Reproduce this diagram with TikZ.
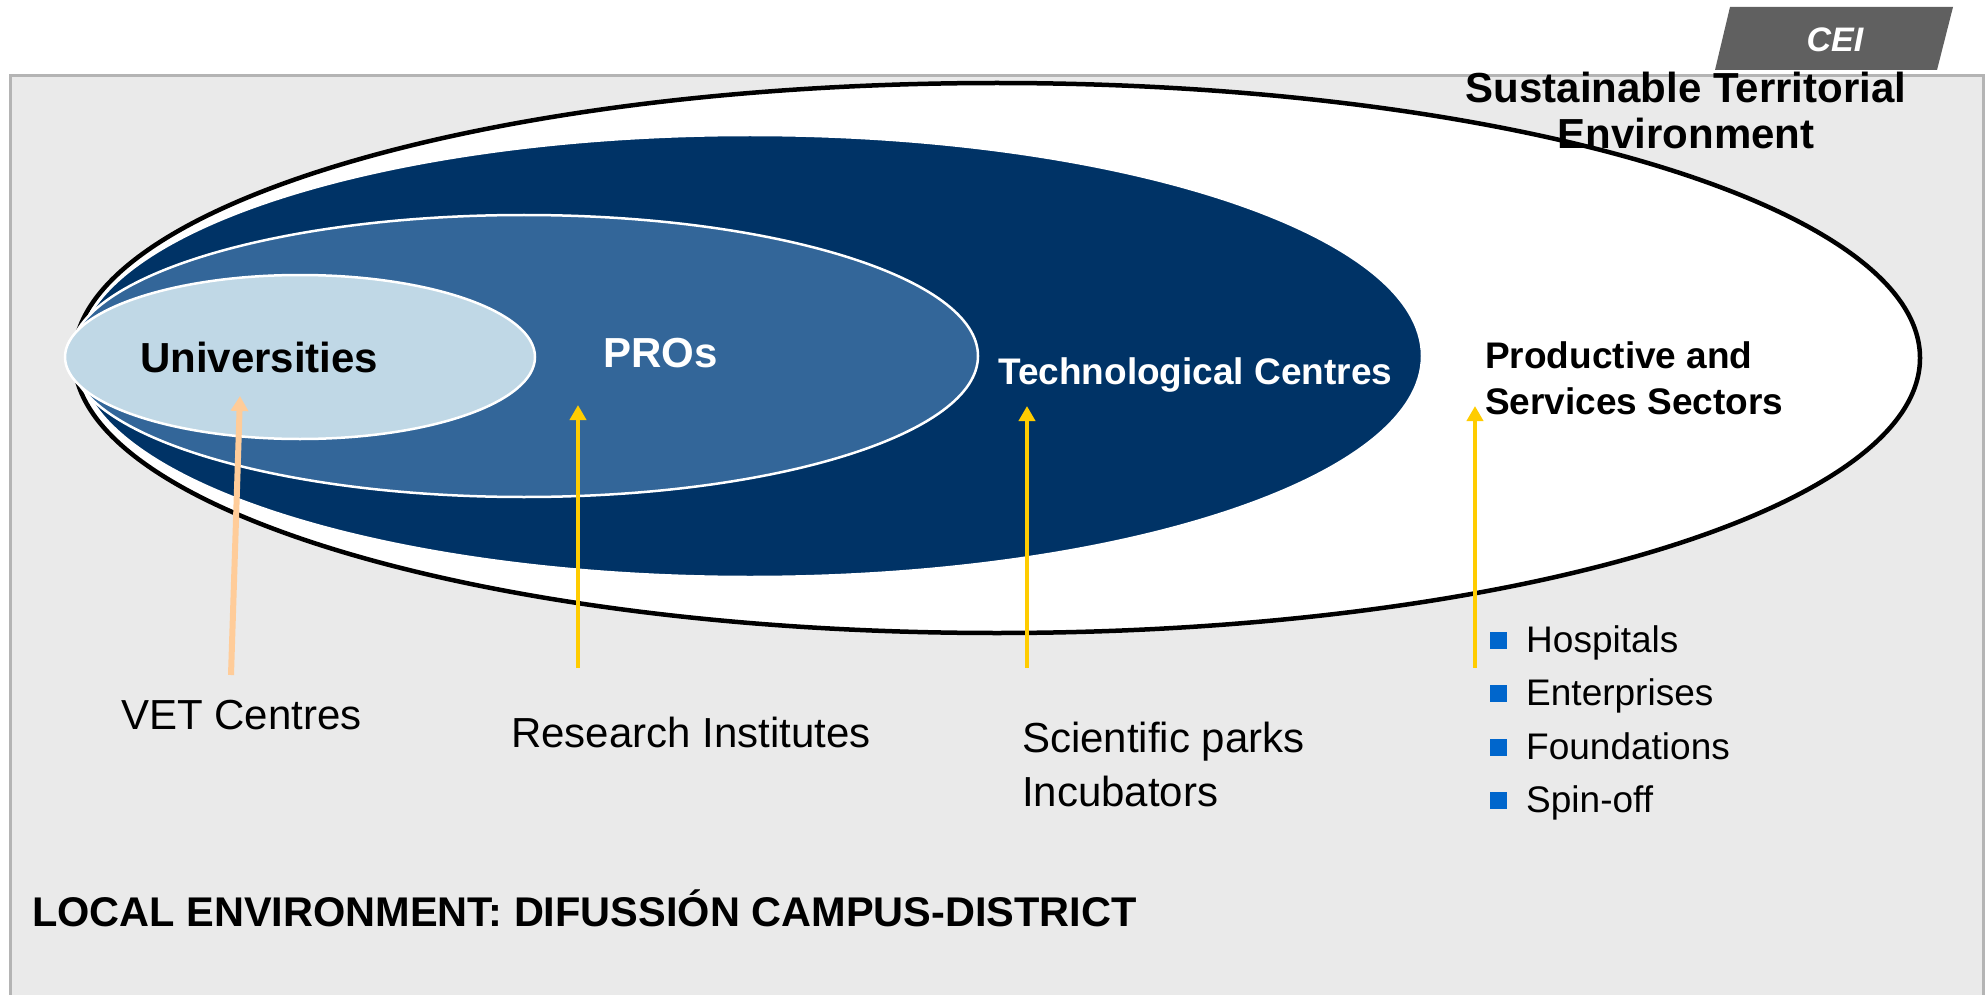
\documentclass[tikz,border=0pt]{standalone}
\usepackage{fontspec}
\setmainfont{Liberation Sans}
\usetikzlibrary{arrows.meta}
\definecolor{bggray}{HTML}{EAEAEA}
\definecolor{bordergray}{HTML}{B4B4B4}
\definecolor{ceigray}{HTML}{606060}
\definecolor{navy}{HTML}{003366}
\definecolor{midblue}{HTML}{336699}
\definecolor{lightblue}{HTML}{C0D8E6}
\definecolor{peach}{HTML}{FFCC99}
\definecolor{gold}{HTML}{FFCC00}
\definecolor{bulletblue}{HTML}{0066CC}
\tikzset{
  txt/.style={inner sep=0pt, anchor=base west},
  big/.style={font=\fontsize{42}{50}\selectfont},
  bigb/.style={font=\fontsize{42}{50}\selectfont\bfseries},
  midb/.style={font=\fontsize{37}{44}\selectfont\bfseries},
  mid/.style={font=\fontsize{37}{44}\selectfont},
  inner ell/.style={draw=white, line width=2.5pt},
  uparrow/.style={-{Triangle[length=15pt,width=16pt]}, draw=gold, fill=gold, line width=4pt},
  bsq/.style={fill=bulletblue, minimum size=17pt, inner sep=0pt, draw=none}
}
\begin{document}
\begin{tikzpicture}[x=1pt,y=-1pt]
\useasboundingbox (0,0) rectangle (1987,995);
\fill[white] (0,0) rectangle (1987,995);
% background box
\draw[line width=3pt, draw=bordergray, fill=bggray] (10,76) rectangle (1983,1010);
% CEI tab
\fill[ceigray] (1730,7) -- (1953,7) -- (1937,70) -- (1715,70) -- cycle;
\node[inner sep=0pt, anchor=base, text=white, font=\fontsize{34}{40}\selectfont\bfseries\itshape] (cei) at (1835,52) {CEI};
% ellipses
\draw[line width=4.5pt, draw=black, fill=white] (997,358) ellipse [x radius=923, y radius=275];
\draw[inner ell, fill=navy] (750,356) ellipse [x radius=672, y radius=221];
\draw[inner ell, fill=midblue] (524,356) ellipse [x radius=454, y radius=141];
\draw[inner ell, fill=lightblue] (300,357) ellipse [x radius=235, y radius=82];
% titles
\node[inner sep=0pt, anchor=base, bigb] (ste1) at (1686,103) {Sustainable Territorial};
\node[inner sep=0pt, anchor=base, bigb] (ste2) at (1686,149) {Environment};
\node[txt, bigb] (uni) at (140,372) {Universities};
\node[txt, bigb, text=white] (pro) at (603,367) {PROs};
\node[txt, midb, text=white] (tec) at (998,384) {Technological Centres};
\node[txt, midb] (prd1) at (1485,368) {Productive and};
\node[txt, midb] (prd2) at (1485,414) {Services Sectors};
% lower labels
\node[txt, big] (vet) at (121,729) {VET Centres};
\node[txt, big] (res) at (511,747) {Research Institutes};
\node[txt, big] (sci1) at (1022,752) {Scientific parks};
\node[txt, big] (sci2) at (1022,806) {Incubators};
\node[txt, font=\fontsize{41.5}{50}\selectfont\bfseries] (loc) at (32,926) {LOCAL ENVIRONMENT: DIFUSSIÓN CAMPUS-DISTRICT};
% bullet list
\node[bsq] (b1) at (1498.5,640) {};
\node[bsq] (b2) at (1498.5,693) {};
\node[bsq] (b3) at (1498.5,747) {};
\node[bsq] (b4) at (1498.5,800) {};
\node[txt, mid] (l1) at (1526,652) {Hospitals};
\node[txt, mid] (l2) at (1526,705) {Enterprises};
\node[txt, mid] (l3) at (1526,759) {Foundations};
\node[txt, mid] (l4) at (1526,812) {Spin-off};
% arrows
\coordinate (vetA) at (231,675);
\coordinate (vetB) at (240,396);
\coordinate (proA) at (578,668);
\coordinate (proB) at (578,405);
\coordinate (tecA) at (1027,668);
\coordinate (tecB) at (1027,406);
\coordinate (prdA) at (1475,668);
\coordinate (prdB) at (1475,406);
\draw[-{Triangle[length=15pt,width=17pt]}, draw=peach, fill=peach, line width=6pt] (vetA) -- (vetB);
\draw[uparrow] (proA) -- (proB);
\draw[uparrow] (tecA) -- (tecB);
\draw[uparrow] (prdA) -- (prdB);
\end{tikzpicture}
\end{document}
